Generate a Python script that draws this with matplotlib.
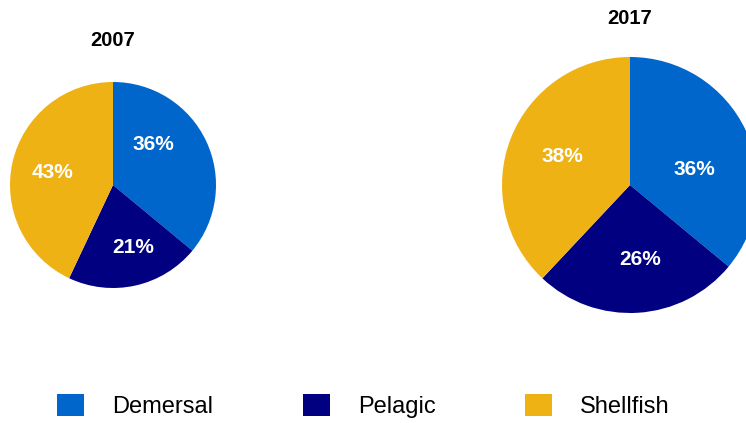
#!/usr/bin/env python3
"""
Landings by category: 2007 vs 2017 pie charts
"""

import numpy as np
import matplotlib
matplotlib.use('Agg')
import matplotlib.pyplot as plt
from matplotlib.patches import Patch

plt.rcParams['font.family'] = ['Liberation Sans', 'DejaVu Sans']

categories = ['Demersal', 'Pelagic', 'Shellfish']
years = ['2007', '2017']
shares_2007 = [36, 21, 43]
shares_2017 = [36, 26, 38]
colors = ['#0066CC', '#000080', '#EFB215']

W, H = 746, 423
fig = plt.figure(figsize=(W / 100, H / 100), dpi=100)


def pie_axes(cx, cy, r):
    # cx, cy in pixels from top-left, r radius in pixels
    return fig.add_axes([(cx - r) / W, (H - cy - r) / H, 2 * r / W, 2 * r / H])


# 饼图位置（像素）和标签微调（角度偏移, 半径比例）
layout = [(113, 185, 103), (630, 185, 128)]
title_y = [40, 18]
label_tweaks = [
    [(20, 0.56), (5, 0.64), (0.6, 0.6)],
    [(-12, 0.52), (4, 0.59), (-1.4, 0.57)],
]

for year, shares, (cx, cy, r), ty, tweaks in zip(years, [shares_2007, shares_2017],
                                                  layout, title_y, label_tweaks):
    ax = pie_axes(cx, cy, r)
    wedges, texts = ax.pie(shares, colors=colors, startangle=90, counterclock=False,
                           labels=[f'{v}%' for v in shares], labeldistance=0.57,
                           textprops=dict(color='white', fontsize=15, fontweight='bold',
                                          ha='center', va='center'),
                           wedgeprops=dict(linewidth=0), radius=1)
    for w, t, (da, d) in zip(wedges, texts, tweaks):
        ang = np.deg2rad((w.theta1 + w.theta2) / 2 + da)
        t.set_position((d * np.cos(ang), d * np.sin(ang)))
    ax.set_xlim(-1, 1)
    ax.set_ylim(-1, 1)
    ax.set_aspect('auto')
    ax.axis('off')
    fig.text(cx / W, 1 - ty / H, year, ha='center', va='center',
             fontsize=14.5, fontweight='bold', color='black')

handles = [Patch(facecolor=c, edgecolor='none') for c in colors]
fig.legend(handles, categories, loc='center left', ncol=3,
           bbox_to_anchor=(57 / W, 1 - 406 / H), frameon=False,
           fontsize=17, borderpad=0, borderaxespad=0,
           handlelength=1.14, handleheight=1.1, handletextpad=1.19,
           columnspacing=3.8)

fig.savefig('out.png', dpi=100)
plt.close(fig)
